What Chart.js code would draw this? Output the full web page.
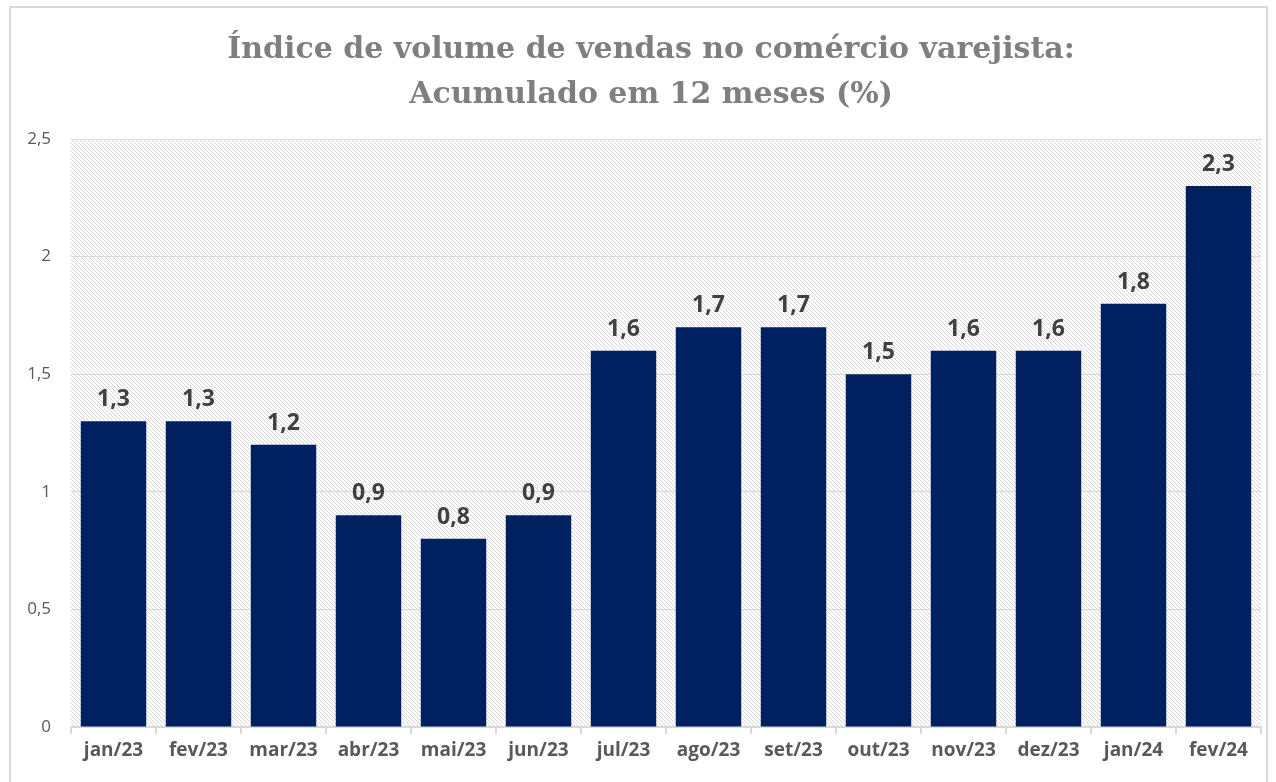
<!DOCTYPE html>
<html>
<head>
<meta charset="utf-8">
<script src="https://cdn.jsdelivr.net/npm/chart.js@4/dist/chart.umd.min.js"></script>
<style>
  html, body { margin: 0; padding: 0; background: #fff; }
  #wrap { position: relative; width: 1276px; height: 782px; }
</style>
</head>
<body>
<div id="wrap"><canvas id="grafico" width="1276" height="782"></canvas></div>
<script>
// Dados do gráfico
const meses = ['jan/23', 'fev/23', 'mar/23', 'abr/23', 'mai/23', 'jun/23', 'jul/23',
  'ago/23', 'set/23', 'out/23', 'nov/23', 'dez/23', 'jan/24', 'fev/24'];
const valores = [1.3, 1.3, 1.2, 0.9, 0.8, 0.9, 1.6, 1.7, 1.7, 1.5, 1.6, 1.6, 1.8, 2.3];
const titulo = ['Índice de volume de vendas no comércio varejista:', 'Acumulado em 12 meses (%)'];

const fmt = v => String(v).replace('.', ',');

// Padrão hachurado do fundo
function criarHachura(ctx) {
  const c = document.createElement('canvas');
  c.width = 4; c.height = 4;
  const g = c.getContext('2d');
  g.fillStyle = '#ffffff';
  g.fillRect(0, 0, 4, 4);
  g.strokeStyle = '#d6d6d6';
  g.lineWidth = 1;
  g.beginPath();
  g.moveTo(0, 0); g.lineTo(4, 4);
  g.moveTo(-1, 3); g.lineTo(1, 5);
  g.moveTo(3, -1); g.lineTo(5, 1);
  g.stroke();
  return ctx.createPattern(c, 'repeat');
}

// Fundo, borda externa e título
const fundoPlugin = {
  id: 'fundo',
  beforeDraw(chart) {
    const { ctx, chartArea: a } = chart;
    ctx.save();
    ctx.fillStyle = '#fff';
    ctx.fillRect(0, 0, chart.width, chart.height);
    ctx.strokeStyle = '#d9d9d9';
    ctx.lineWidth = 2;
    ctx.strokeRect(10, 7, 1257, 800);
    ctx.fillStyle = criarHachura(ctx);
    ctx.fillRect(a.left, a.top, a.right - a.left, a.bottom - a.top);

    ctx.fillStyle = '#7f7f7f';
    ctx.font = 'bold 30px "DejaVu Serif"';
    ctx.textAlign = 'center';
    ctx.textBaseline = 'middle';
    titulo.forEach((linha, i) => ctx.fillText(linha, 651, 50 + i * 45));
    ctx.restore();
  }
};

// Rótulos de dados acima das barras
const rotulosPlugin = {
  id: 'rotulos',
  afterDatasetsDraw(chart) {
    const { ctx } = chart;
    const meta = chart.getDatasetMeta(0);
    ctx.save();
    ctx.font = 'bold 23px "Open Sans"';
    ctx.fillStyle = '#404040';
    ctx.textAlign = 'center';
    ctx.textBaseline = 'bottom';
    meta.data.forEach((bar, i) => {
      ctx.fillText(fmt(valores[i]), bar.x, bar.y - 10);
    });
    ctx.restore();
  }
};

new Chart(document.getElementById('grafico'), {
  type: 'bar',
  data: {
    labels: meses,
    datasets: [{
      data: valores,
      backgroundColor: '#002060',
      barPercentage: 0.77,
      categoryPercentage: 1.0,
    }],
  },
  options: {
    responsive: false,
    animation: false,
    layout: { padding: { left: 0, right: 15, top: 139, bottom: 0 } },
    plugins: {
      legend: { display: false },
      tooltip: { enabled: false },
      title: { display: false },
    },
    scales: {
      y: {
        min: 0,
        max: 2.5,
        ticks: {
          stepSize: 0.5,
          color: '#595959',
          font: { family: 'Open Sans', size: 17 },
          padding: 20,
          callback: v => fmt(v),
        },
        grid: { color: '#d9d9d9', drawTicks: false },
        border: { display: false },
        afterFit: s => { s.width = 71; },
      },
      x: {
        ticks: {
          color: '#595959',
          font: { family: 'Open Sans', size: 19, weight: 'bold' },
          padding: 5,
          maxRotation: 0,
        },
        grid: { drawOnChartArea: false, color: '#d9d9d9', tickLength: 7, lineWidth: 2 },
        border: { color: '#d9d9d9', width: 2 },
        afterFit: s => { s.height = 55; },
      },
    },
  },
  plugins: [fundoPlugin, rotulosPlugin],
});
</script>
</body>
</html>
